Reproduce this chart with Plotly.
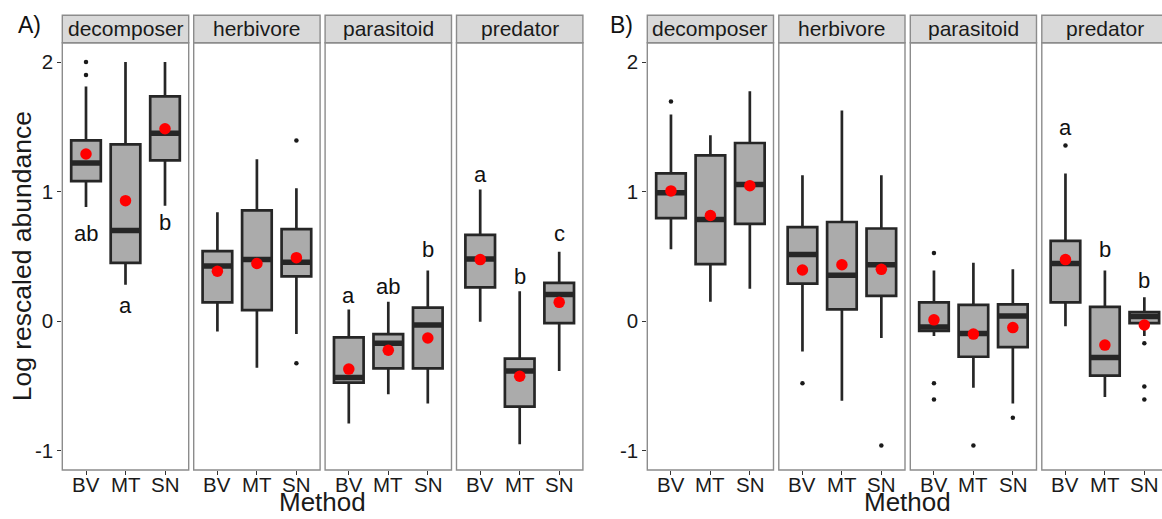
import plotly.graph_objects as go

# ---- data -------------------------------------------------------------
methods = ["BV", "MT", "SN"]
groups = ["decomposer", "herbivore", "parasitoid", "predator"]

# Panel A: per functional group, values for BV, MT, SN
a_lower = [[0.88, 0.28, 0.89], [-0.08, -0.36, -0.10], [-0.79, -0.565, -0.635], [-0.005, -0.95, -0.385]]
a_q1 = [[1.08, 0.45, 1.24], [0.145, 0.085, 0.345], [-0.475, -0.365, -0.365], [0.26, -0.66, -0.015]]
a_median = [[1.22, 0.70, 1.45], [0.425, 0.475, 0.455], [-0.435, -0.17, -0.03], [0.48, -0.385, 0.205]]
a_q3 = [[1.395, 1.365, 1.735], [0.54, 0.855, 0.71], [-0.125, -0.10, 0.105], [0.665, -0.29, 0.295]]
a_upper = [[1.81, 2.0, 2.0], [0.84, 1.25, 1.025], [0.09, 0.15, 0.39], [1.015, 0.23, 0.535]]
a_mean = [[1.29, 0.93, 1.485], [0.385, 0.445, 0.49], [-0.37, -0.225, -0.13], [0.475, -0.425, 0.145]]
a_out_method = [["BV", "BV"], ["SN", "SN"], [], []]
a_out_value = [[2.0, 1.90], [1.395, -0.325], [], []]
a_letters = [["ab", "a", "b"], [], ["a", "ab", "b"], ["a", "b", "c"]]
a_letter_y = [[0.68, 0.12, 0.76], [], [0.20, 0.27, 0.55], [1.135, 0.345, 0.68]]

# Panel B
b_lower = [[0.555, 0.15, 0.25], [-0.235, -0.615, -0.13], [-0.115, -0.515, -0.635], [-0.04, -0.585, -0.115]]
b_q1 = [[0.795, 0.44, 0.75], [0.29, 0.09, 0.195], [-0.075, -0.275, -0.20], [0.145, -0.42, -0.015]]
b_median = [[0.99, 0.785, 1.055], [0.515, 0.355, 0.435], [-0.045, -0.095, 0.04], [0.445, -0.28, 0.035]]
b_q3 = [[1.14, 1.28, 1.375], [0.725, 0.765, 0.715], [0.145, 0.125, 0.13], [0.62, 0.11, 0.07]]
b_upper = [[1.595, 1.435, 1.775], [1.125, 1.625, 1.125], [0.39, 0.45, 0.40], [1.14, 0.39, 0.185]]
b_mean = [[1.005, 0.815, 1.045], [0.395, 0.435, 0.40], [0.01, -0.10, -0.05], [0.475, -0.185, -0.03]]
b_out_method = [["BV"], ["BV", "SN"], ["BV", "BV", "BV", "MT", "SN"], ["BV", "SN", "SN", "SN"]]
b_out_value = [[1.695], [-0.48, -0.96], [0.525, -0.48, -0.605, -0.96, -0.745], [1.355, -0.17, -0.505, -0.605]]
b_letters = [[], [], [], ["a", "b", "b"]]
b_letter_y = [[], [], [], [1.496, 0.554, 0.317]]

y_ticks = [-1, 0, 1, 2]
y_tick_labels = ["-1", "0", "1", "2"]

# ---- layout geometry (pixels) -----------------------------------------
W, H = 1162, 519
PLOT_TOP, PLOT_BOTTOM = 42.7, 470.0
STRIP_TOP = 15.3
XLABEL_Y = 484.0
Y_RANGE = [-1.149, 2.149]
X_RANGE = [0.4, 3.6]
BOX_W = 0.75

panels = [
    dict(label="A)", label_x=29, lefts=[62.3, 193.7, 325.1, 456.5], width=126.4,
         lower=a_lower, q1=a_q1, median=a_median, q3=a_q3, upper=a_upper, mean=a_mean,
         out_m=a_out_method, out_v=a_out_value, letters=a_letters, letter_y=a_letter_y),
    dict(label="B)", label_x=621.3, lefts=[647.3, 778.8, 910.3, 1041.8], width=126.2,
         lower=b_lower, q1=b_q1, median=b_median, q3=b_q3, upper=b_upper, mean=b_mean,
         out_m=b_out_method, out_v=b_out_value, letters=b_letters, letter_y=b_letter_y),
]

FONT = "Arial, Liberation Sans, sans-serif"
TXT = "#1a1a1a"
BORDER = "#8c8c8c"
BOX_FILL = "#ababab"
BOX_LINE = "#262626"


def px(x):
    return x / W


def py(y):
    return 1 - y / H


fig = go.Figure()
layout = dict(
    width=W, height=H, margin=dict(l=0, r=0, t=0, b=0),
    paper_bgcolor="white", plot_bgcolor="white", showlegend=False,
    font=dict(family=FONT, color=TXT),
)
shapes = []
annotations = []

k = 0
for p in panels:
    for g, gname in enumerate(groups):
        k += 1
        x0 = p["lefts"][g]
        x1 = x0 + p["width"]
        x1_vis = min(x1, W)
        xr = [X_RANGE[0], X_RANGE[0] + (X_RANGE[1] - X_RANGE[0]) * (x1_vis - x0) / (x1 - x0)]
        sfx = "" if k == 1 else str(k)
        xa, ya = f"x{sfx}", f"y{sfx}"
        first = g == 0

        layout[f"xaxis{sfx}"] = dict(
            domain=[px(x0), px(x1_vis)], range=xr, anchor=ya,
            tickmode="array", tickvals=[1, 2, 3], ticktext=methods,
            ticks="outside", ticklen=4, tickwidth=1.2, tickcolor="#333333",
            showticklabels=False,
            showgrid=False, zeroline=False, showline=False, fixedrange=True,
        )
        layout[f"yaxis{sfx}"] = dict(
            domain=[py(PLOT_BOTTOM), py(PLOT_TOP)], range=Y_RANGE, anchor=xa,
            tickmode="array", tickvals=y_ticks, ticktext=y_tick_labels,
            ticks="outside" if first else "", ticklen=4, tickwidth=1.2, tickcolor="#333333",
            showticklabels=first,
            tickfont=dict(size=20.5, color=TXT, family=FONT),
            showgrid=False, zeroline=False, showline=False, fixedrange=True,
        )

        # method labels under each panel, placed on the axis positions
        for i, m in enumerate(methods):
            annotations.append(dict(
                x=i + 1, y=py(XLABEL_Y), xref=xa, yref="paper", text=m, showarrow=False,
                font=dict(size=20.5, color=TXT, family=FONT),
                xanchor="center", yanchor="middle",
            ))

        # boxes from precomputed statistics
        fig.add_trace(go.Box(
            x=[1, 2, 3], q1=p["q1"][g], median=p["median"][g], q3=p["q3"][g],
            lowerfence=p["lower"][g], upperfence=p["upper"][g],
            width=BOX_W, whiskerwidth=0, boxpoints=False,
            fillcolor=BOX_FILL, line=dict(color=BOX_LINE, width=2.7),
            xaxis=xa, yaxis=ya, hoverinfo="skip",
        ))

        # thick median bars
        mx, my = [], []
        for i, m in enumerate(p["median"][g]):
            mx += [i + 1 - BOX_W / 2, i + 1 + BOX_W / 2, None]
            my += [m, m, None]
        fig.add_trace(go.Scatter(
            x=mx, y=my, mode="lines", line=dict(color=BOX_LINE, width=5.5),
            xaxis=xa, yaxis=ya, hoverinfo="skip",
        ))

        # outliers
        if p["out_v"][g]:
            fig.add_trace(go.Scatter(
                x=[methods.index(m) + 1 for m in p["out_m"][g]], y=p["out_v"][g],
                mode="markers", marker=dict(color="#1a1a1a", size=4.5),
                xaxis=xa, yaxis=ya, hoverinfo="skip",
            ))

        # group means
        fig.add_trace(go.Scatter(
            x=[1, 2, 3], y=p["mean"][g], mode="markers",
            marker=dict(color="#ff0000", size=11.5),
            xaxis=xa, yaxis=ya, hoverinfo="skip",
        ))

        # significance letters
        for i, (lt, ly) in enumerate(zip(p["letters"][g], p["letter_y"][g])):
            annotations.append(dict(
                x=i + 1, y=ly, xref=xa, yref=ya, text=lt, showarrow=False,
                font=dict(size=22, color="#111111", family=FONT),
                xanchor="center", yanchor="middle",
            ))

        # panel border and strip
        shapes.append(dict(
            type="rect", xref="paper", yref="paper",
            x0=px(x0), x1=px(x1), y0=py(PLOT_BOTTOM), y1=py(PLOT_TOP),
            line=dict(color=BORDER, width=1.4), fillcolor="rgba(0,0,0,0)", layer="above",
        ))
        shapes.append(dict(
            type="rect", xref="paper", yref="paper",
            x0=px(x0), x1=px(x1), y0=py(PLOT_TOP), y1=py(STRIP_TOP),
            line=dict(color=BORDER, width=1.4), fillcolor="#d9d9d9", layer="below",
        ))
        annotations.append(dict(
            x=px((x0 + x1) / 2), y=py((STRIP_TOP + PLOT_TOP) / 2),
            xref="paper", yref="paper", text=gname, showarrow=False,
            font=dict(size=21, color=TXT, family=FONT), xanchor="center", yanchor="middle",
        ))

    # panel tag and x title
    annotations.append(dict(
        x=px(p["label_x"]), y=py(25), xref="paper", yref="paper", text=p["label"],
        showarrow=False, font=dict(size=23, color="#111111", family=FONT),
        xanchor="center", yanchor="middle",
    ))
    left, right = p["lefts"][0], p["lefts"][-1] + p["width"]
    annotations.append(dict(
        x=px((left + right) / 2), y=0, xref="paper", yref="paper", text="Method",
        showarrow=False, font=dict(size=26, color=TXT, family=FONT),
        xanchor="center", yanchor="bottom",
    ))

annotations.append(dict(
    x=px(22), y=py((PLOT_TOP + PLOT_BOTTOM) / 2), xref="paper", yref="paper",
    text="Log rescaled abundance", textangle=-90, showarrow=False,
    font=dict(size=26.5, color=TXT, family=FONT), xanchor="center", yanchor="middle",
))

layout["shapes"] = shapes
layout["annotations"] = annotations
fig.update_layout(**layout)
fig.write_html("out.html")
